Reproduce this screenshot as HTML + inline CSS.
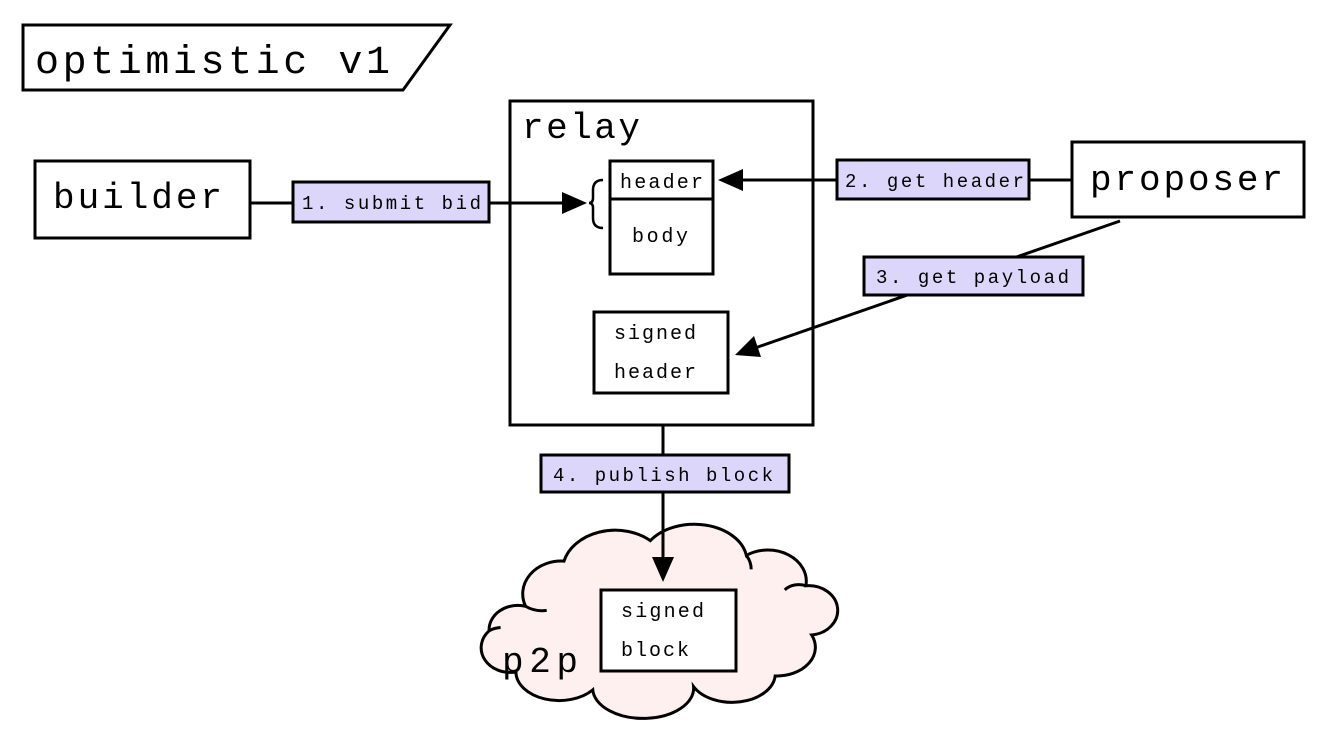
<!DOCTYPE html>
<html><head><meta charset="utf-8"><style>
html,body{margin:0;padding:0;background:#fff;}
svg{display:block;}
text{font-family:"Liberation Mono",monospace;fill:#000;}
</style></head><body>
<svg width="1344" height="756" viewBox="0 0 1344 756" xmlns="http://www.w3.org/2000/svg">
<!-- title -->
<polygon points="23,25 450,25 403,90 23,90" fill="#fff" stroke="#000" stroke-width="3"/>
<text x="35" y="73" font-size="40" textLength="355" lengthAdjust="spacing">optimistic v1</text>

<!-- cloud -->
<g transform="translate(659,621) scale(0.96,0.82) translate(-669,-628)">
<path vector-effect="non-scaling-stroke" d="M530,610 A40,40 0 0 1 570,555 A55,50 0 0 1 660,530 A55,45 0 0 1 760,548 A40,38 0 0 1 822,585 A30,30 0 0 1 828,645 A40,35 0 0 1 790,695 A45,35 0 0 1 705,708 A50,35 0 0 1 600,712 A45,35 0 0 1 520,690 A30,30 0 0 1 492,640 A30,30 0 0 1 530,610 Z" fill="#fff0f0" stroke="#000" stroke-width="3"/>
<path vector-effect="non-scaling-stroke" d="M530,610 A30,30 0 0 0 552,615" fill="none" stroke="#000" stroke-width="3"/>
<path vector-effect="non-scaling-stroke" d="M760,548 A30,30 0 0 1 765,565" fill="none" stroke="#000" stroke-width="3"/>
<path vector-effect="non-scaling-stroke" d="M822,585 A20,20 0 0 0 800,590" fill="none" stroke="#000" stroke-width="3"/>
<path vector-effect="non-scaling-stroke" d="M492,640 A25,25 0 0 1 504,636" fill="none" stroke="#000" stroke-width="3"/>
</g>
<text x="502" y="672" font-size="36" textLength="76" lengthAdjust="spacing">p2p</text>
<rect x="601" y="590" width="135" height="81" fill="#fff" stroke="#000" stroke-width="3"/>
<text x="621" y="617" font-size="20" textLength="83" lengthAdjust="spacing">signed</text>
<text x="621" y="656" font-size="20" textLength="68" lengthAdjust="spacing">block</text>

<!-- builder -->
<rect x="35" y="161" width="215" height="77" fill="#fff" stroke="#000" stroke-width="3"/>
<text x="53" y="208" font-size="36" textLength="169" lengthAdjust="spacing">builder</text>

<!-- relay -->
<rect x="510" y="101" width="303" height="324" fill="#fff" stroke="#000" stroke-width="3"/>
<text x="522" y="138" font-size="36" textLength="118" lengthAdjust="spacing">relay</text>
<rect x="610" y="161" width="103" height="38" fill="#fff" stroke="#000" stroke-width="3"/>
<rect x="610" y="199" width="103" height="75" fill="#fff" stroke="#000" stroke-width="3"/>
<text x="620" y="188" font-size="20" textLength="83" lengthAdjust="spacing">header</text>
<text x="632" y="242" font-size="20" textLength="56" lengthAdjust="spacing">body</text>
<path d="M603,180 Q593,180 593,190 L593,198 Q593,203 589,203 Q593,203 593,208 L593,218 Q593,228 603,228" fill="none" stroke="#000" stroke-width="2.5"/>
<rect x="594" y="312" width="134" height="81" fill="#fff" stroke="#000" stroke-width="3"/>
<text x="614" y="339" font-size="20" textLength="82" lengthAdjust="spacing">signed</text>
<text x="614" y="378" font-size="20" textLength="82" lengthAdjust="spacing">header</text>

<!-- proposer -->
<rect x="1072" y="142" width="232" height="75" fill="#fff" stroke="#000" stroke-width="3"/>
<text x="1090" y="190" font-size="36" textLength="193" lengthAdjust="spacing">proposer</text>

<!-- connectors -->
<line x1="250" y1="203" x2="565" y2="203" stroke="#000" stroke-width="3"/>
<polygon points="587,203 562,192 562,214" fill="#000"/>
<line x1="1072" y1="180" x2="740" y2="180" stroke="#000" stroke-width="3"/>
<polygon points="718,180 743,169 743,191" fill="#000"/>
<line x1="1120" y1="221" x2="755" y2="348" stroke="#000" stroke-width="3"/>
<polygon points="735,355 754,336 761,357" fill="#000"/>
<line x1="663" y1="425" x2="663" y2="560" stroke="#000" stroke-width="3"/>
<polygon points="663,582 652,557 674,557" fill="#000"/>

<!-- labels -->
<rect x="293" y="182" width="196" height="40" fill="#ddd6fb" stroke="#000" stroke-width="3"/>
<text x="302" y="209" font-size="19" textLength="179" lengthAdjust="spacing">1. submit bid</text>
<rect x="837" y="160" width="192" height="39" fill="#ddd6fb" stroke="#000" stroke-width="3"/>
<text x="845" y="187" font-size="19" textLength="179" lengthAdjust="spacing">2. get header</text>
<rect x="864" y="257" width="219" height="38" fill="#ddd6fb" stroke="#000" stroke-width="3"/>
<text x="876" y="283" font-size="19" textLength="193" lengthAdjust="spacing">3. get payload</text>
<rect x="541" y="455" width="248" height="37" fill="#ddd6fb" stroke="#000" stroke-width="3"/>
<text x="553" y="481" font-size="19" textLength="220" lengthAdjust="spacing">4. publish block</text>
</svg>
</body></html>
